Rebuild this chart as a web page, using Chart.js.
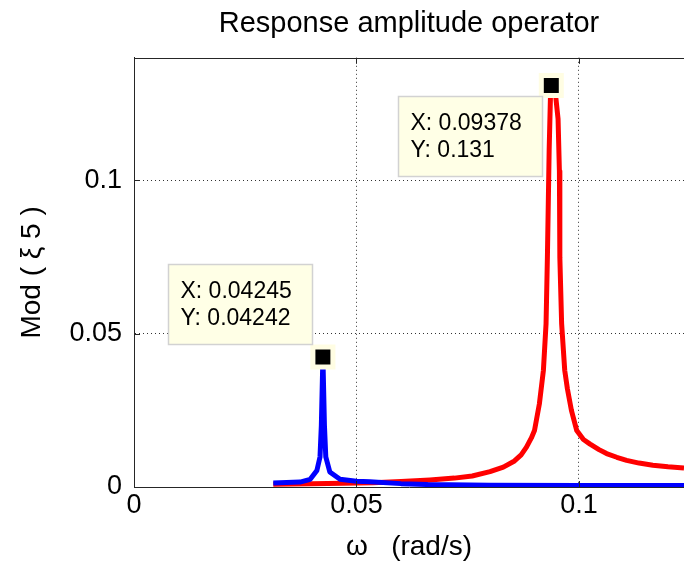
<!DOCTYPE html>
<html>
<head>
<meta charset="utf-8">
<script src="https://cdn.jsdelivr.net/npm/chart.js@4.4.1/dist/chart.umd.min.js"></script>
<style>
  html, body { margin: 0; padding: 0; background: #fff; overflow: hidden; }
  #wrap { width: 684px; height: 569px; }
</style>
</head>
<body>
<div id="wrap"><canvas id="raoChart" width="684" height="569"></canvas></div>
<script>
// values (omega in rad/s)
const redOmega = [0.0313, 0.0400, 0.0470, 0.0537, 0.0600, 0.0665, 0.0720, 0.0760, 0.0800, 0.0830,
  0.0855, 0.0870, 0.0882, 0.0893, 0.0900, 0.0911, 0.0920, 0.0926, 0.0929, 0.0933,
  0.0936, 0.09378, 0.0942, 0.0948, 0.0953, 0.0956, 0.0957, 0.0961, 0.0968, 0.0974,
  0.0983, 0.0995, 0.1010, 0.1025, 0.1045, 0.1062, 0.1085, 0.1107, 0.1135, 0.1166,
  0.1200, 0.1236];
const redMod = [0.0009, 0.0011, 0.0012, 0.0014, 0.0018, 0.0023, 0.0029, 0.0036, 0.0050, 0.0065,
  0.0085, 0.0105, 0.0130, 0.0160, 0.0184, 0.0271, 0.0380, 0.0533, 0.0748, 0.1100,
  0.1280, 0.1310, 0.1300, 0.1270, 0.1200, 0.1030, 0.0748, 0.0533, 0.0380, 0.0320,
  0.0250, 0.0184, 0.0155, 0.0140, 0.0122, 0.0109, 0.0097, 0.0087, 0.0078, 0.0071,
  0.0066, 0.0062];

const blueOmega = [0.0313, 0.0373, 0.0396, 0.0411, 0.0418, 0.0421, 0.04245, 0.0428, 0.0431, 0.0440,
  0.0463, 0.0500, 0.0530, 0.0600, 0.0660, 0.0800, 0.1000, 0.1236];
const blueMod = [0.0013, 0.0016, 0.0025, 0.0054, 0.0098, 0.0200, 0.04242, 0.0200, 0.0098, 0.0049,
  0.0025, 0.0019, 0.0017, 0.0011, 0.0008, 0.0006, 0.0005, 0.0005];

// data tips
const tipX = [0.04245, 0.09378];
const tipY = [0.04242, 0.131];

const xTicks = [0, 0.05, 0.1];
const xTickLabels = ['0', '0.05', '0.1'];
const yTicks = [0, 0.05, 0.1];
const yTickLabels = ['0', '0.05', '0.1'];

const FONT = '"Liberation Sans", Arial, Helvetica, sans-serif';
const AXIS_COLOR = '#262626';

// where each data tip box sits relative to its point
const tipLayout = [
  { dx: -155, dy: -93, w: 144, h: 80 },
  { dx: -153, dy: 11, w: 144, h: 80 }
];

const toPoints = (xs, ys) => xs.map((x, i) => ({ x, y: ys[i] }));

const framePlugin = {
  id: 'frame',
  afterDraw(chart) {
    const { ctx, chartArea: a, scales: { x, y } } = chart;
    ctx.save();
    ctx.strokeStyle = AXIS_COLOR;
    ctx.lineWidth = 1;
    // top edge of the box
    ctx.beginPath();
    ctx.moveTo(a.left, Math.round(a.top) + 0.5);
    ctx.lineTo(a.right, Math.round(a.top) + 0.5);
    ctx.stroke();
    // inward tick marks
    ctx.beginPath();
    xTicks.forEach(v => {
      const px = Math.round(x.getPixelForValue(v)) + 0.5;
      ctx.moveTo(px, a.bottom); ctx.lineTo(px, a.bottom - 6);
      ctx.moveTo(px, a.top); ctx.lineTo(px, a.top + 6);
    });
    yTicks.forEach(v => {
      const py = Math.round(y.getPixelForValue(v)) + 0.5;
      ctx.moveTo(a.left, py); ctx.lineTo(a.left + 6, py);
    });
    ctx.stroke();

    // data tip boxes
    ctx.font = '23px ' + FONT;
    ctx.textBaseline = 'middle';
    ctx.textAlign = 'left';
    tipX.forEach((tx, i) => {
      const px = x.getPixelForValue(tx);
      const py = y.getPixelForValue(tipY[i]);
      const b = tipLayout[i];
      const left = Math.round(px + b.dx) + 0.5;
      const top = Math.round(py + b.dy) + 0.5;
      ctx.fillStyle = '#ffffe6';
      ctx.strokeStyle = '#d2d2d2';
      ctx.lineWidth = 1.5;
      ctx.fillRect(left, top, b.w, b.h);
      ctx.strokeRect(left, top, b.w, b.h);
      ctx.fillStyle = '#000';
      ctx.fillText('X: ' + tx, left + 12, top + 27);
      ctx.fillText('Y: ' + tipY[i], left + 12, top + 54);
    });
    ctx.restore();
  }
};

const chart = new Chart(document.getElementById('raoChart'), {
  type: 'line',
  data: {
    datasets: [
      {
        label: 'tip',
        data: toPoints(tipX, tipY),
        showLine: false,
        pointStyle: 'rect',
        pointRadius: 10.6,
        pointBackgroundColor: '#000',
        pointBorderWidth: 0,
        order: 0
      },
      {
        label: 'halo',
        data: toPoints(tipX, tipY),
        showLine: false,
        pointStyle: 'rect',
        pointRadius: 17.7,
        pointBackgroundColor: '#fffde3',
        pointBorderWidth: 0,
        order: 1
      },
      {
        label: 'mode 1',
        data: toPoints(blueOmega, blueMod),
        borderColor: '#0000ff',
        borderWidth: 5,
        borderJoinStyle: 'round',
        pointRadius: 0,
        tension: 0,
        order: 2
      },
      {
        label: 'mode 2',
        data: toPoints(redOmega, redMod),
        borderColor: '#ff0000',
        borderWidth: 5,
        borderJoinStyle: 'round',
        pointRadius: 0,
        tension: 0,
        order: 3
      }
    ]
  },
  options: {
    responsive: false,
    animation: false,
    devicePixelRatio: 1,
    layout: { padding: 0, autoPadding: false },
    plugins: {
      legend: { display: false },
      tooltip: { enabled: false },
      title: {
        display: true,
        text: 'Response amplitude operator',
        color: '#000',
        fullSize: false,
        font: { family: FONT, size: 29, weight: 'normal' },
        padding: { top: 7, bottom: 16 }
      }
    },
    scales: {
      x: {
        type: 'linear',
        min: 0,
        max: 0.1236,
        afterBuildTicks: s => { s.ticks = xTicks.map(v => ({ value: v })); },
        afterFit: s => { s.height = 82; s.paddingLeft = 0; s.paddingRight = 0; },
        ticks: {
          color: '#000',
          padding: 2,
          font: { family: FONT, size: 27 },
          callback: v => xTickLabels[xTicks.indexOf(v)]
        },
        grid: {
          drawTicks: false,
          lineWidth: 1,
          color: c => (c.tick && c.tick.value === 0 ? 'rgba(0,0,0,0)' : '#333')
        },
        border: { display: true, color: AXIS_COLOR, width: 1, dash: [1, 3] },
        title: {
          display: true,
          text: 'ω   (rad/s)',
          color: '#000',
          font: { family: FONT, size: 28 },
          padding: { top: 0, bottom: 5 }
        }
      },
      y: {
        type: 'linear',
        min: 0,
        max: 0.14,
        afterBuildTicks: s => { s.ticks = yTicks.map(v => ({ value: v })); },
        afterFit: s => { s.width = 134; s.paddingTop = 0; s.paddingBottom = 0; },
        ticks: {
          color: '#000',
          padding: 12,
          font: { family: FONT, size: 27 },
          callback: v => yTickLabels[yTicks.indexOf(v)]
        },
        grid: {
          drawTicks: false,
          lineWidth: 1,
          color: c => (c.tick && c.tick.value === 0 ? 'rgba(0,0,0,0)' : '#333')
        },
        border: { display: true, color: AXIS_COLOR, width: 1, dash: [1, 3] },
        title: {
          display: true,
          text: 'Mod ( ξ 5 )',
          color: '#000',
          font: { family: FONT, size: 28 },
          padding: { top: 15, bottom: 0 }
        }
      }
    }
  },
  plugins: [framePlugin]
});
</script>
</body>
</html>
